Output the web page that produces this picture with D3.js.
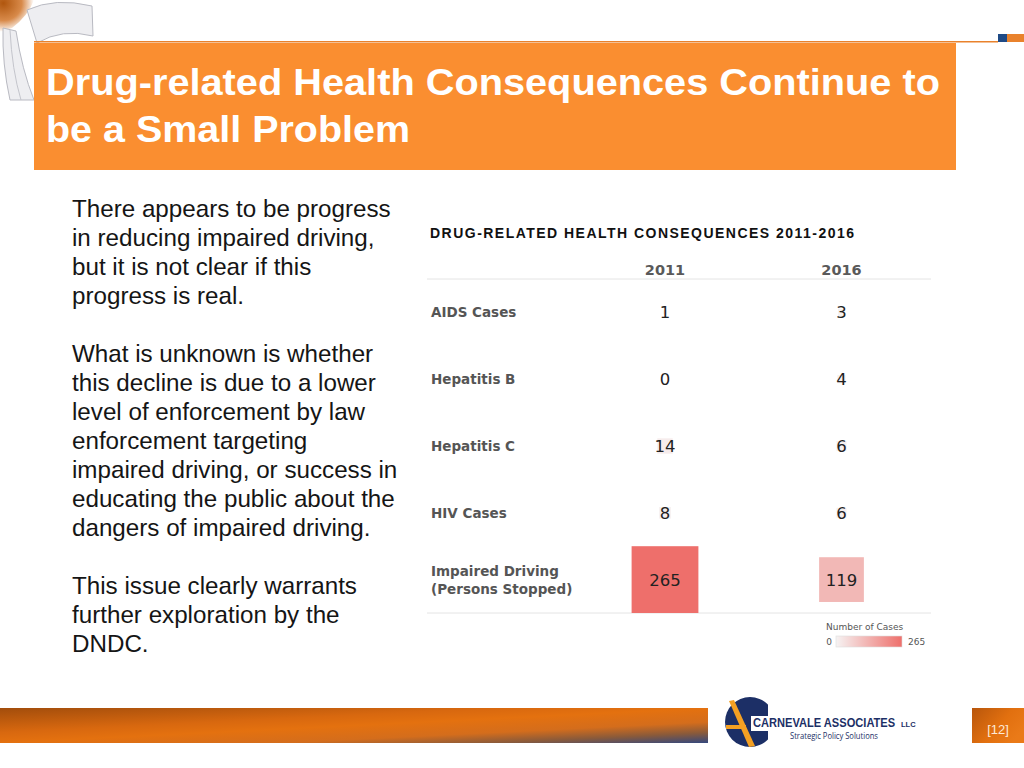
<!DOCTYPE html>
<html>
<head>
<meta charset="utf-8">
<script src="https://cdn.jsdelivr.net/npm/d3@7"></script>
<style>
  html, body { margin: 0; padding: 0; background: #ffffff; }
  svg { display: block; }
</style>
</head>
<body>
<svg id="slide" width="1024" height="768"></svg>
<script>
// ---------- DATA ----------
const slideTitleLines = ["Drug-related Health Consequences Continue to", "be a Small Problem"];
const bodyParagraphs = [
  ["There appears to be progress", "in reducing impaired driving,", "but it is not clear if this", "progress is real."],
  ["What is unknown is whether", "this decline is due to a lower", "level of enforcement by law", "enforcement targeting", "impaired driving, or success in", "educating the public about the", "dangers of impaired driving."],
  ["This issue clearly warrants", "further exploration by the", "DNDC."]
];
const chartTitle = "DRUG-RELATED HEALTH CONSEQUENCES 2011-2016";
const categories = ["AIDS Cases", "Hepatitis B", "Hepatitis C", "HIV Cases", "Impaired Driving\n(Persons Stopped)"];
const years = ["2011", "2016"];
const cases2011 = [1, 0, 14, 8, 265];
const cases2016 = [3, 4, 6, 6, 119];
const legendTitle = "Number of Cases";
const legendTicks = [0, 265];
const pageNumber = "[12]";

// ---------- SETUP ----------
const svg = d3.select("#slide");
const defs = svg.append("defs");

const gBar = defs.append("linearGradient").attr("id", "gBar")
  .attr("x1", 0).attr("y1", 0).attr("x2", 1).attr("y2", 1);
[[0, "#a24d0c"], [0.35, "#d8680f"], [0.5, "#e4710f"], [0.7, "#d46d1c"], [0.85, "#8a5a3a"], [1, "#34487e"]]
  .forEach(([o, c]) => gBar.append("stop").attr("offset", o).attr("stop-color", c));

const gPage = defs.append("linearGradient").attr("id", "gPage")
  .attr("x1", 0).attr("y1", 0).attr("x2", 1).attr("y2", 0.6);
[[0, "#b8560c"], [0.6, "#e2700f"], [1, "#ea7a18"]]
  .forEach(([o, c]) => gPage.append("stop").attr("offset", o).attr("stop-color", c));

const gCorner = defs.append("radialGradient").attr("id", "gCorner")
  .attr("cx", 0.1).attr("cy", 0.1).attr("r", 0.9);
[[0, "#b0560e"], [0.6, "#d88a4a"], [1, "#ffffff"]]
  .forEach(([o, c]) => gCorner.append("stop").attr("offset", o).attr("stop-color", c));

// ---------- DECORATION: top-left logo fragment ----------
svg.append("path").attr("d", "M0,0 L34,0 Q28,16 12,28 L0,32 Z").attr("fill", "url(#gCorner)");
svg.append("path").attr("d", "M27,10 Q55,-3 92,6 L93,36 Q62,28 37,43 Z")
  .attr("fill", "#eeeef1").attr("stroke", "#b9bac2").attr("stroke-width", 1);
svg.append("path").attr("d", "M3,28 L16,31 Q22,70 34,100 L10,100 Q2,64 3,28 Z")
  .attr("fill", "#eeeef1").attr("stroke", "#b9bac2").attr("stroke-width", 1);
svg.append("path").attr("d", "M10,30 Q12,70 21,100").attr("fill", "none").attr("stroke", "#c4c5cc").attr("stroke-width", 1);

// top thin line and corner squares
svg.append("rect").attr("x", 34).attr("y", 41).attr("width", 964).attr("height", 1.5).attr("fill", "#e9822c");
svg.append("rect").attr("x", 998).attr("y", 34).attr("width", 9).attr("height", 8).attr("fill", "#1f4a85");
svg.append("rect").attr("x", 1007).attr("y", 34).attr("width", 17).attr("height", 8).attr("fill", "#e9822c");

// title box
svg.append("rect").attr("x", 34).attr("y", 43).attr("width", 922).attr("height", 127).attr("fill", "#fa8e30");
const titleLens = [894, 364];
svg.append("g").selectAll("text").data(slideTitleLines).join("text")
  .attr("x", 46).attr("y", (d, i) => 95 + i * 47)
  .attr("font-family", "'Liberation Sans', Arial, sans-serif")
  .attr("font-weight", "bold").attr("font-size", 36).attr("fill", "#ffffff")
  .attr("textLength", (d, i) => titleLens[i]).attr("lengthAdjust", "spacingAndGlyphs")
  .text(d => d);

// body text
const paraStarts = [217, 362, 594];
const body = svg.append("g")
  .attr("font-family", "'Liberation Sans', Arial, sans-serif")
  .attr("font-size", 24.2).attr("fill", "#151515");
bodyParagraphs.forEach((lines, p) => {
  body.append("g").selectAll("text").data(lines).join("text")
    .attr("x", 72).attr("y", (d, i) => paraStarts[p] + i * 29)
    .text(d => d);
});

// ---------- CHART ----------
const chartFont = "'DejaVu Sans', Verdana, sans-serif";
svg.append("text").attr("x", 430).attr("y", 238)
  .attr("font-family", "'Liberation Sans', Arial, sans-serif")
  .attr("font-weight", "bold").attr("font-size", 14).attr("fill", "#111")
  .attr("textLength", 424).attr("lengthAdjust", "spacing")
  .text(chartTitle);

const y = d3.scaleBand().domain(categories).range([279, 613]);
const x = d3.scalePoint().domain(years).range([665, 841.5]);
const size = d3.scaleSqrt().domain([0, 265]).range([0, y.bandwidth()]);
const color = d3.scaleLinear().domain([0, 265]).range(["#f6f3f3", "#ee6f6b"]);
const lineX = [427, 931];

// header
svg.append("g").selectAll("text").data(years).join("text")
  .attr("x", d => x(d)).attr("y", 275).attr("text-anchor", "middle")
  .attr("font-family", chartFont).attr("font-weight", "bold").attr("font-size", 14.5)
  .attr("fill", "#5a5a5a").text(d => d);

// grid lines (top and bottom)
svg.append("g").selectAll("line").data([y.range()[0], y.range()[1]]).join("line")
  .attr("x1", lineX[0]).attr("x2", lineX[1]).attr("y1", d => d).attr("y2", d => d)
  .attr("stroke", "#e4e4e4").attr("stroke-width", 1);

// row labels
const rowLabels = svg.append("g").attr("font-family", chartFont).attr("font-weight", "bold")
  .attr("font-size", 13.5).attr("fill", "#555555");
categories.forEach(c => {
  const lines = c.split("\n");
  const cy = y(c) + y.bandwidth() / 2;
  rowLabels.append("text").attr("x", 431)
    .selectAll("tspan").data(lines).join("tspan")
    .attr("x", 431)
    .attr("y", (d, i) => cy + 5 + (i - (lines.length - 1) / 2) * 18)
    .text(d => d);
});

// cells
const cells = [];
categories.forEach((c, i) => {
  cells.push({ cat: c, year: "2011", v: cases2011[i] });
  cells.push({ cat: c, year: "2016", v: cases2016[i] });
});
const cellG = svg.append("g");
cellG.selectAll("rect").data(cells).join("rect")
  .attr("x", d => x(d.year) - size(d.v) / 2)
  .attr("y", d => y(d.cat) + y.bandwidth() / 2 - size(d.v) / 2)
  .attr("width", d => size(d.v)).attr("height", d => size(d.v))
  .attr("fill", d => color(d.v));
cellG.selectAll("text").data(cells).join("text")
  .attr("x", d => x(d.year)).attr("y", d => y(d.cat) + y.bandwidth() / 2 + 6)
  .attr("text-anchor", "middle").attr("font-family", chartFont).attr("font-size", 16.5)
  .attr("fill", "#222222").text(d => d.v);

// legend
const lg = defs.append("linearGradient").attr("id", "gLegend");
lg.append("stop").attr("offset", 0).attr("stop-color", color(legendTicks[0]));
lg.append("stop").attr("offset", 1).attr("stop-color", color(legendTicks[1]));
const legendScale = d3.scaleLinear().domain(legendTicks).range([836, 902]);
svg.append("text").attr("x", 826).attr("y", 630)
  .attr("font-family", chartFont).attr("font-size", 9).attr("fill", "#555")
  .text(legendTitle);
svg.append("rect").attr("x", legendScale(0)).attr("y", 636)
  .attr("width", legendScale(265) - legendScale(0)).attr("height", 11)
  .attr("fill", "url(#gLegend)").attr("stroke", "#dddddd").attr("stroke-width", 0.6);
svg.append("g").selectAll("text").data(legendTicks).join("text")
  .attr("x", (d, i) => i === 0 ? legendScale(d) - 4 : legendScale(d) + 6)
  .attr("y", 645)
  .attr("text-anchor", (d, i) => i === 0 ? "end" : "start")
  .attr("font-family", chartFont).attr("font-size", 9).attr("fill", "#555")
  .text(d => d);

// ---------- FOOTER ----------
svg.append("rect").attr("x", 0).attr("y", 708).attr("width", 708).attr("height", 35).attr("fill", "url(#gBar)");
svg.append("rect").attr("x", 972).attr("y", 708).attr("width", 52).attr("height", 35).attr("fill", "url(#gPage)");
svg.append("text").attr("x", 998).attr("y", 734).attr("text-anchor", "middle")
  .attr("font-family", "'Liberation Sans', Arial, sans-serif").attr("font-size", 13)
  .attr("fill", "#fde9d6").text(pageNumber);

// logo emblem
defs.append("clipPath").attr("id", "cClip").append("rect").attr("x", 700).attr("y", 690).attr("width", 68).attr("height", 70);
const logo = svg.append("g");
logo.append("circle").attr("cx", 750).attr("cy", 722).attr("r", 25).attr("fill", "#1c2f66").attr("clip-path", "url(#cClip)");
logo.append("rect").attr("x", 751).attr("y", 716).attr("width", 20).attr("height", 15).attr("fill", "#ffffff");
logo.append("path").attr("d", "M729,701 L734,700 L755,746 L749,747 Z").attr("fill", "#f4a023");
logo.append("rect").attr("x", 726).attr("y", 725).attr("width", 20).attr("height", 4).attr("fill", "#f4a023");
logo.append("text").attr("transform", "translate(753,727) scale(1,1.2)")
  .attr("font-family", "'Liberation Sans', Arial, sans-serif").attr("font-weight", "bold").attr("font-size", 11.1)
  .attr("fill", "#1c2f66")
  .text("CARNEVALE ASSOCIATES");
logo.append("text").attr("x", 901).attr("y", 727)
  .attr("font-family", "'Liberation Sans', Arial, sans-serif").attr("font-weight", "bold").attr("font-size", 7.5)
  .attr("fill", "#1c2f66").text("LLC");
logo.append("text").attr("x", 790).attr("y", 739)
  .attr("font-family", "'Open Sans', 'Liberation Sans', sans-serif").attr("font-size", 8.5)
  .attr("fill", "#1c2f66").attr("textLength", 88).attr("lengthAdjust", "spacingAndGlyphs")
  .text("Strategic Policy Solutions");
</script>
</body>
</html>
